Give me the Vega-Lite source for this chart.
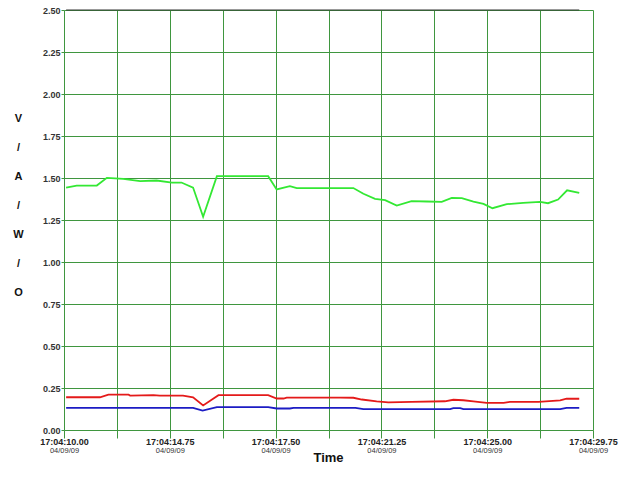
{
  "$schema": "https://vega.github.io/schema/vega-lite/v6.json",
  "width": 529,
  "height": 420,
  "autosize": {"type": "none"},
  "padding": {"left": 64, "top": 10, "right": 26, "bottom": 50},
  "background": "white",
  "config": {
    "view": {"stroke": null},
    "font": "Liberation Sans"
  },
  "datasets": {
    "series": [
      {"t": 0.04, "v": 1.443, "s": "V"},
      {"t": 0.24, "v": 1.455, "s": "V"},
      {"t": 0.62, "v": 1.455, "s": "V"},
      {"t": 0.81, "v": 1.501, "s": "V"},
      {"t": 1.12, "v": 1.495, "s": "V"},
      {"t": 1.44, "v": 1.481, "s": "V"},
      {"t": 1.75, "v": 1.485, "s": "V"},
      {"t": 2.04, "v": 1.473, "s": "V"},
      {"t": 2.22, "v": 1.473, "s": "V"},
      {"t": 2.44, "v": 1.443, "s": "V"},
      {"t": 2.63, "v": 1.269, "s": "V"},
      {"t": 2.89, "v": 1.511, "s": "V"},
      {"t": 3.86, "v": 1.511, "s": "V"},
      {"t": 4.02, "v": 1.432, "s": "V"},
      {"t": 4.27, "v": 1.451, "s": "V"},
      {"t": 4.40, "v": 1.44, "s": "V"},
      {"t": 5.22, "v": 1.44, "s": "V"},
      {"t": 5.47, "v": 1.44, "s": "V"},
      {"t": 5.66, "v": 1.406, "s": "V"},
      {"t": 5.88, "v": 1.376, "s": "V"},
      {"t": 6.07, "v": 1.368, "s": "V"},
      {"t": 6.29, "v": 1.336, "s": "V"},
      {"t": 6.57, "v": 1.362, "s": "V"},
      {"t": 6.86, "v": 1.36, "s": "V"},
      {"t": 7.14, "v": 1.358, "s": "V"},
      {"t": 7.33, "v": 1.382, "s": "V"},
      {"t": 7.52, "v": 1.38, "s": "V"},
      {"t": 7.74, "v": 1.36, "s": "V"},
      {"t": 7.93, "v": 1.346, "s": "V"},
      {"t": 8.10, "v": 1.32, "s": "V"},
      {"t": 8.37, "v": 1.344, "s": "V"},
      {"t": 8.68, "v": 1.352, "s": "V"},
      {"t": 9.00, "v": 1.358, "s": "V"},
      {"t": 9.15, "v": 1.35, "s": "V"},
      {"t": 9.34, "v": 1.372, "s": "V"},
      {"t": 9.51, "v": 1.427, "s": "V"},
      {"t": 9.74, "v": 1.412, "s": "V"},

      {"t": 0.04, "v": 0.195, "s": "A"},
      {"t": 0.68, "v": 0.195, "s": "A"},
      {"t": 0.84, "v": 0.21, "s": "A"},
      {"t": 1.22, "v": 0.21, "s": "A"},
      {"t": 1.25, "v": 0.205, "s": "A"},
      {"t": 1.69, "v": 0.207, "s": "A"},
      {"t": 1.81, "v": 0.205, "s": "A"},
      {"t": 2.25, "v": 0.205, "s": "A"},
      {"t": 2.44, "v": 0.195, "s": "A"},
      {"t": 2.63, "v": 0.146, "s": "A"},
      {"t": 2.92, "v": 0.207, "s": "A"},
      {"t": 3.86, "v": 0.207, "s": "A"},
      {"t": 4.02, "v": 0.1875, "s": "A"},
      {"t": 4.15, "v": 0.1875, "s": "A"},
      {"t": 4.21, "v": 0.193, "s": "A"},
      {"t": 5.22, "v": 0.193, "s": "A"},
      {"t": 5.47, "v": 0.192, "s": "A"},
      {"t": 5.63, "v": 0.1815, "s": "A"},
      {"t": 5.91, "v": 0.17, "s": "A"},
      {"t": 6.13, "v": 0.165, "s": "A"},
      {"t": 6.57, "v": 0.168, "s": "A"},
      {"t": 7.20, "v": 0.171, "s": "A"},
      {"t": 7.36, "v": 0.18, "s": "A"},
      {"t": 7.55, "v": 0.177, "s": "A"},
      {"t": 7.74, "v": 0.17, "s": "A"},
      {"t": 7.99, "v": 0.162, "s": "A"},
      {"t": 8.31, "v": 0.162, "s": "A"},
      {"t": 8.43, "v": 0.168, "s": "A"},
      {"t": 8.97, "v": 0.168, "s": "A"},
      {"t": 9.38, "v": 0.176, "s": "A"},
      {"t": 9.50, "v": 0.186, "s": "A"},
      {"t": 9.74, "v": 0.186, "s": "A"},

      {"t": 0.04, "v": 0.132, "s": "W"},
      {"t": 2.44, "v": 0.132, "s": "W"},
      {"t": 2.62, "v": 0.116, "s": "W"},
      {"t": 2.89, "v": 0.136, "s": "W"},
      {"t": 3.86, "v": 0.136, "s": "W"},
      {"t": 4.02, "v": 0.128, "s": "W"},
      {"t": 4.27, "v": 0.128, "s": "W"},
      {"t": 4.34, "v": 0.132, "s": "W"},
      {"t": 5.51, "v": 0.132, "s": "W"},
      {"t": 5.66, "v": 0.124, "s": "W"},
      {"t": 7.30, "v": 0.124, "s": "W"},
      {"t": 7.36, "v": 0.13, "s": "W"},
      {"t": 7.49, "v": 0.13, "s": "W"},
      {"t": 7.55, "v": 0.124, "s": "W"},
      {"t": 9.38, "v": 0.124, "s": "W"},
      {"t": 9.50, "v": 0.132, "s": "W"},
      {"t": 9.74, "v": 0.132, "s": "W"}
    ]
  },
  "resolve": {"axis": {"x": "independent"}},
  "layer": [
    {
      "data": {"name": "series"},
      "mark": {"type": "line", "strokeWidth": 1.8, "interpolate": "linear"},
      "encoding": {
        "x": {
          "field": "t",
          "type": "quantitative",
          "scale": {"domain": [0, 10], "nice": false, "zero": false},
          "axis": {
            "orient": "bottom",
            "values": [0, 1, 2, 3, 4, 5, 6, 7, 8, 9, 10],
            "labelExpr": "datum.value == 0 ? '17:04:10.00' : datum.value == 2 ? '17:04:14.75' : datum.value == 4 ? '17:04:17.50' : datum.value == 6 ? '17:04:21.25' : datum.value == 8 ? '17:04:25.00' : datum.value == 10 ? '17:04:29.75' : ''",
            "labelFont": "Liberation Sans",
            "labelFontSize": 9,
            "labelFontWeight": "bold",
            "labelColor": "#222",
            "labelPadding": -1,
            "labelFlush": false,
            "labelOverlap": false,
            "grid": true,
            "gridColor": "#3f963f",
            "gridOpacity": 1,
            "gridWidth": 1,
            "domain": false,
            "ticks": true,
            "tickColor": "#3f963f",
            "tickSize": 8,
            "tickWidth": 1,
            "title": null
          }
        },
        "y": {
          "field": "v",
          "type": "quantitative",
          "scale": {"domain": [0, 2.5], "nice": false, "zero": false},
          "axis": {
            "values": [0, 0.25, 0.5, 0.75, 1, 1.25, 1.5, 1.75, 2, 2.25, 2.5],
            "format": ".2f",
            "labelFont": "Liberation Sans",
            "labelFontSize": 9,
            "labelFontWeight": "bold",
            "labelColor": "#333",
            "labelPadding": 1,
            "grid": true,
            "gridColor": "#3f963f",
            "gridOpacity": 1,
            "gridWidth": 1,
            "domain": false,
            "tickColor": "#3f963f",
            "tickSize": 3,
            "title": ["V", "/", "A", "/", "W", "/", "O"],
            "titleAngle": 0,
            "titleFont": "Liberation Sans",
            "titleFontSize": 11,
            "titleFontWeight": "bold",
            "titleColor": "#111",
            "titleLineHeight": 29,
            "titleAlign": "center",
            "titleBaseline": "middle",
            "titleX": -46,
            "titleY": 108
          }
        },
        "color": {
          "field": "s",
          "type": "nominal",
          "scale": {"domain": ["V", "A", "W"], "range": ["#33e833", "#e41a1a", "#1c1cc4"]},
          "legend": null
        }
      }
    },
    {
      "data": {"name": "series"},
      "mark": {"type": "rule", "color": "#333333", "strokeWidth": 1},
      "encoding": {
        "y": {"datum": 2.5},
        "x": {
          "field": "t",
          "type": "quantitative",
          "aggregate": "min",
          "scale": {"domain": [0, 10], "nice": false, "zero": false},
          "axis": {
            "orient": "bottom",
            "values": [0, 2, 4, 6, 8, 10],
            "labelExpr": "'04/09/09'",
            "labelFont": "Liberation Sans",
            "labelFontSize": 7.5,
            "labelColor": "#333",
            "labelPadding": 16,
            "labelFlush": false,
            "labelOverlap": false,
            "grid": false,
            "domain": false,
            "ticks": false,
            "title": "Time",
            "titleFont": "Liberation Sans",
            "titleFontSize": 13,
            "titleFontWeight": "bold",
            "titleColor": "#111",
            "titleBaseline": "middle",
            "titleAlign": "center",
            "titleX": 264,
            "titleY": 27
          }
        },
        "x2": {"datum": 9.74}
      }
    }
  ]
}
